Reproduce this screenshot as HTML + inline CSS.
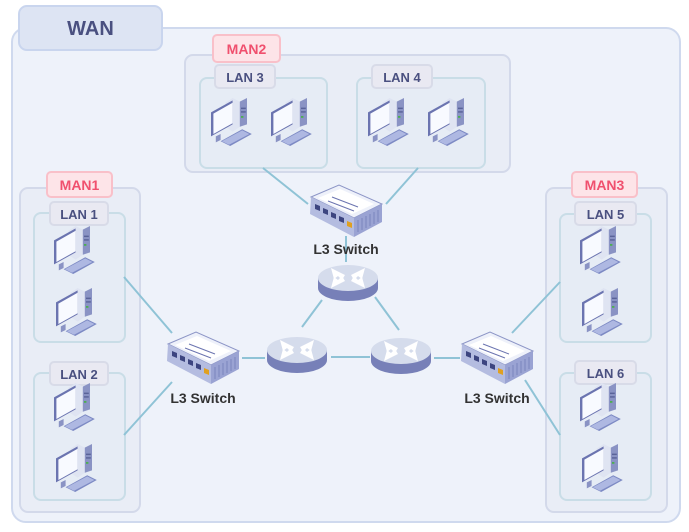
<!DOCTYPE html>
<html><head><meta charset="utf-8"><style>
html,body{margin:0;padding:0;background:#fff;}
svg{display:block;}
text{font-family:"Liberation Sans",sans-serif;font-weight:bold;}
</style></head><body>
<svg width="689" height="532" viewBox="0 0 689 532" xmlns="http://www.w3.org/2000/svg">
<defs>
<g id="pc"><g transform="scale(1.2)">
  <polygon points="-8,-16 -2,-20 4,-17 4,4 -2,8 -8,4" fill="#dfe4f2"/>
  <polygon points="4,-17 10,-20 10,2 4,4" fill="#8a93c4"/>
  <rect x="5" y="-12" width="4" height="1.2" fill="#5a6399"/>
  <rect x="5" y="-9" width="4" height="1.2" fill="#5a6399"/>
  <rect x="5" y="-5" width="2" height="1.5" fill="#4caf50"/>
  <polygon points="-20,-8 -2,-18 -2,2 -20,12" fill="#6b74b0"/>
  <polygon points="-18,-7 -2,-16 -2,1 -18,10" fill="#f8faff"/>
  <polygon points="-16,12 -12,10 -12,15 -16,17" fill="#8a93c4"/>
  <polygon points="-12,16 6,6 14,10 -4,20" fill="#7d8ac4"/>
  <polygon points="-11,16 6,7 12,10 -5,19" fill="#aeb8e2"/>
</g></g>
<g id="sw">
  <polygon points="-35,-13 -7,-25 36,-6 8,8" fill="#eef1fa" stroke="#8c95c6" stroke-width="1"/>
  <polygon points="-28,-12 -6,-21 28,-6 6,4" fill="#fff"/>
  <line x1="-14" y1="-13" x2="12" y2="-3" stroke="#6b74b0" stroke-width="1"/>
  <line x1="-18" y1="-9" x2="8" y2="1" stroke="#6b74b0" stroke-width="1"/>
  <polygon points="-35,-13 8,8 8,27 -36,4" fill="#b4bce0"/>
  <g fill="#3d4580">
    <polygon points="-31,-6 -26,-4 -26,1 -31,-1"/>
    <polygon points="-23,-2 -18,0 -18,5 -23,3"/>
    <polygon points="-15,2 -10,4 -10,9 -15,7"/>
    <polygon points="-7,6 -2,8 -2,13 -7,11"/>
  </g>
  <polygon points="1,11 6,13 6,18 1,16" fill="#e0a020"/>
  <polygon points="8,8 36,-6 36,12 8,27" fill="#9aa3d3"/>
  <g stroke="#7a84bd" stroke-width="1">
    <line x1="12" y1="10" x2="12" y2="22"/><line x1="16" y1="8" x2="16" y2="20"/>
    <line x1="20" y1="6" x2="20" y2="18"/><line x1="24" y1="4" x2="24" y2="16"/>
    <line x1="28" y1="2" x2="28" y2="14"/><line x1="32" y1="0" x2="32" y2="12"/>
  </g>
</g>
<g id="rt">
  <path d="M-30,0 L-30,10 A30,13 0 0 0 30,10 L30,0 Z" fill="#7780b8"/>
  <ellipse cx="0" cy="0" rx="30" ry="13" fill="#d5dcec"/>
  <g fill="#fff">
    <polygon points="-17,-10 -3,-3 -6,2 -10,-2 -14,1"/>
    <polygon points="17,-10 3,-3 6,2 10,-2 14,1"/>
    <polygon points="-17,10 -3,3 -6,-2 -10,2 -14,-1"/>
    <polygon points="17,10 3,3 6,-2 10,2 14,-1"/>
  </g>
</g>
</defs>

<rect x="0" y="0" width="689" height="532" fill="#fff"/>
<rect x="12" y="28" width="668" height="494" rx="14" fill="#eef2fa" stroke="#cfd9ee" stroke-width="2"/>
<rect x="19" y="6" width="143" height="44" rx="8" fill="#dde4f3" stroke="#c9d5ee" stroke-width="2"/>
<text x="90.5" y="35" text-anchor="middle" font-size="20" fill="#4a5080">WAN</text>

<!-- MAN2 -->
<rect x="185" y="55" width="325" height="117" rx="8" fill="#e9edf6" stroke="#d3d9ea" stroke-width="2"/>
<rect x="200" y="78" width="127" height="90" rx="7" fill="#e6ecf5" stroke="#c9dde7" stroke-width="2"/>
<rect x="357" y="78" width="128" height="90" rx="7" fill="#e6ecf5" stroke="#c9dde7" stroke-width="2"/>
<rect x="213" y="35" width="67" height="27" rx="4" fill="#fde4e8" stroke="#f9c0c9" stroke-width="2"/>
<text x="246.5" y="54" text-anchor="middle" font-size="14" fill="#f0506e">MAN2</text>
<rect x="215" y="65" width="60" height="23" rx="4" fill="#e9e9f2" stroke="#d8dbe8" stroke-width="2"/>
<text x="245" y="82" text-anchor="middle" font-size="13" fill="#4a5080">LAN 3</text>
<rect x="372" y="65" width="60" height="23" rx="4" fill="#e9e9f2" stroke="#d8dbe8" stroke-width="2"/>
<text x="402" y="82" text-anchor="middle" font-size="13" fill="#4a5080">LAN 4</text>

<!-- MAN1 -->
<rect x="20" y="188" width="120" height="324" rx="8" fill="#e9edf6" stroke="#d3d9ea" stroke-width="2"/>
<rect x="34" y="213" width="91" height="129" rx="7" fill="#e6ecf5" stroke="#c9dde7" stroke-width="2"/>
<rect x="34" y="373" width="91" height="127" rx="7" fill="#e6ecf5" stroke="#c9dde7" stroke-width="2"/>
<rect x="47" y="172" width="65" height="25" rx="4" fill="#fde4e8" stroke="#f9c0c9" stroke-width="2"/>
<text x="79.5" y="190" text-anchor="middle" font-size="14" fill="#f0506e">MAN1</text>
<rect x="50" y="202" width="58" height="23" rx="4" fill="#e9e9f2" stroke="#d8dbe8" stroke-width="2"/>
<text x="79" y="219" text-anchor="middle" font-size="13" fill="#4a5080">LAN 1</text>
<rect x="50" y="362" width="58" height="23" rx="4" fill="#e9e9f2" stroke="#d8dbe8" stroke-width="2"/>
<text x="79" y="379" text-anchor="middle" font-size="13" fill="#4a5080">LAN 2</text>

<!-- MAN3 -->
<rect x="546" y="188" width="121" height="324" rx="8" fill="#e9edf6" stroke="#d3d9ea" stroke-width="2"/>
<rect x="560" y="214" width="91" height="128" rx="7" fill="#e6ecf5" stroke="#c9dde7" stroke-width="2"/>
<rect x="560" y="373" width="91" height="127" rx="7" fill="#e6ecf5" stroke="#c9dde7" stroke-width="2"/>
<rect x="572" y="172" width="65" height="25" rx="4" fill="#fde4e8" stroke="#f9c0c9" stroke-width="2"/>
<text x="604.5" y="190" text-anchor="middle" font-size="14" fill="#f0506e">MAN3</text>
<rect x="575" y="202" width="61" height="23" rx="4" fill="#e9e9f2" stroke="#d8dbe8" stroke-width="2"/>
<text x="605.5" y="219" text-anchor="middle" font-size="13" fill="#4a5080">LAN 5</text>
<rect x="575" y="361" width="61" height="23" rx="4" fill="#e9e9f2" stroke="#d8dbe8" stroke-width="2"/>
<text x="605.5" y="378" text-anchor="middle" font-size="13" fill="#4a5080">LAN 6</text>

<!-- connector lines -->
<g stroke="#8fc3d6" stroke-width="2" fill="none">
  <line x1="263" y1="168" x2="308" y2="204"/>
  <line x1="418" y1="168" x2="386" y2="204"/>
  <line x1="346" y1="236" x2="346" y2="262"/>
  <line x1="322" y1="300" x2="302" y2="327"/>
  <line x1="375" y1="297" x2="399" y2="330"/>
  <line x1="331" y1="357" x2="370" y2="357"/>
  <line x1="242" y1="358" x2="265" y2="358"/>
  <line x1="434" y1="358" x2="460" y2="358"/>
  <line x1="124" y1="277" x2="172" y2="333"/>
  <line x1="124" y1="435" x2="172" y2="382"/>
  <line x1="560" y1="282" x2="512" y2="333"/>
  <line x1="560" y1="435" x2="525" y2="380"/>
</g>

<use href="#pc" x="235" y="122"/><use href="#pc" x="295" y="122"/>
<use href="#pc" x="392" y="122"/><use href="#pc" x="452" y="122"/>
<use href="#pc" x="78" y="250"/><use href="#pc" x="80" y="312"/>
<use href="#pc" x="78" y="407"/><use href="#pc" x="80" y="468"/>
<use href="#pc" x="604" y="250"/><use href="#pc" x="606" y="312"/>
<use href="#pc" x="604" y="407"/><use href="#pc" x="606" y="468"/>

<!-- switches & routers -->
<use href="#sw" x="346" y="210"/>
<text x="346" y="254" text-anchor="middle" font-size="14" fill="#333">L3 Switch</text>
<use href="#sw" x="203" y="357"/>
<text x="203" y="403" text-anchor="middle" font-size="14" fill="#333">L3 Switch</text>
<use href="#sw" x="497" y="357"/>
<text x="497" y="403" text-anchor="middle" font-size="14" fill="#333">L3 Switch</text>
<use href="#rt" x="348" y="278"/>
<use href="#rt" x="297" y="350"/>
<use href="#rt" x="401" y="351"/>
</svg>
</body></html>
